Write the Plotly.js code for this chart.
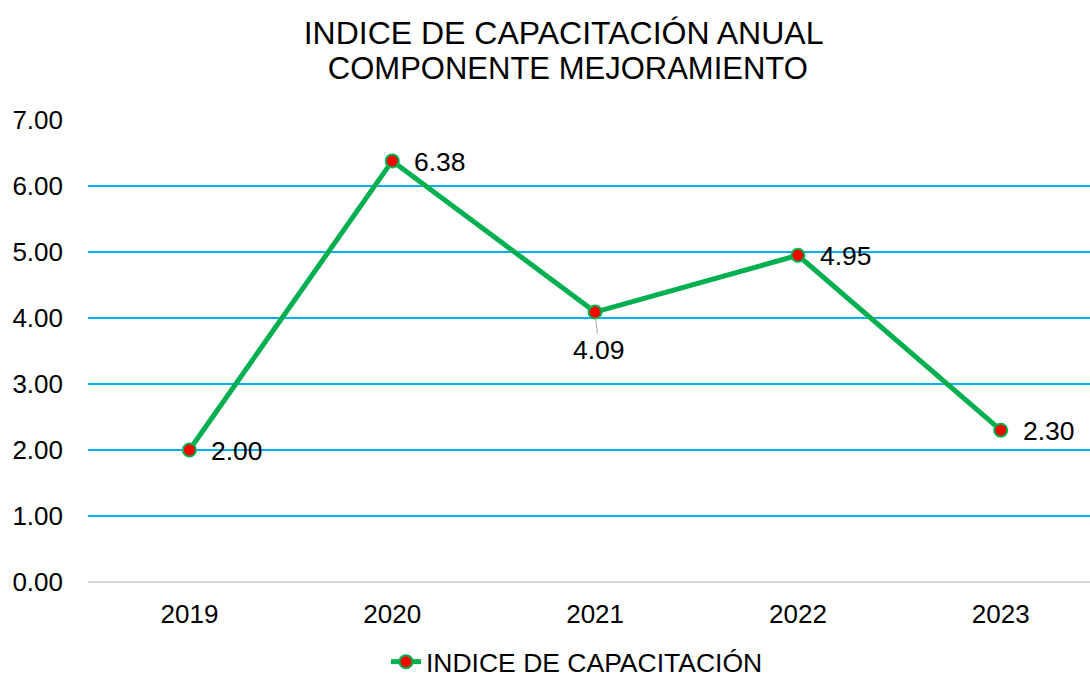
<!DOCTYPE html>
<html>
<head>
<meta charset="utf-8">
<script src="https://cdn.plot.ly/plotly-3.0.1.min.js"></script>
<style>html,body{margin:0;padding:0;background:#fff;}#chart{width:1090px;height:680px;}#err{position:absolute;left:100px;top:300px;color:#c00;font:14px sans-serif;}</style>
</head>
<body>
<div id="chart"></div>
<div id="err"></div>
<script>
window.onerror = function (m) { document.getElementById('err').textContent += ' ' + m; };
const years = ['2019', '2020', '2021', '2022', '2023'];
const values = [2.00, 6.38, 4.09, 4.95, 2.30];
const labels = ['2.00', '6.38', '4.09', '4.95', '2.30'];
const yTicks = [0, 1, 2, 3, 4, 5, 6, 7];
const yTickText = ['0.00', '1.00', '2.00', '3.00', '4.00', '5.00', '6.00', '7.00'];
const seriesName = 'INDICE DE CAPACITACIÓN';
const titleLines = ['INDICE DE CAPACITACIÓN ANUAL', '&nbsp;COMPONENTE MEJORAMIENTO'];
const titleSizes = [32, 31];

const font = 'Liberation Sans, Arial, sans-serif';

const trace = {
  type: 'scatter',
  mode: 'lines+markers',
  x: years,
  y: values,
  name: seriesName,
  line: {color: '#00b050', width: 5},
  marker: {color: '#ff0000', size: 13, line: {color: '#00b050', width: 2}},
  cliponaxis: false
};

const annotations = years.map((yr, i) => {
  if (i === 2) {
    return {
      x: i, y: values[i], xref: 'x', yref: 'y',
      text: labels[i], showarrow: true, arrowhead: 0, arrowwidth: 1,
      arrowcolor: '#a6a6a6', ax: 4, ay: 38, standoff: 6,
      font: {family: font, size: 26.5, color: '#000000'}
    };
  }
  return {
    x: i, y: values[i], xref: 'x', yref: 'y',
    text: labels[i], showarrow: false, xanchor: 'left', yanchor: 'middle',
    xshift: 20, yshift: -1,
    font: {family: font, size: 26.5, color: '#000000'}
  };
});

const layout = {
  width: 1090, height: 680,
  margin: {l: 88, r: 0, t: 120, b: 98, autoexpand: false},
  paper_bgcolor: '#ffffff', plot_bgcolor: '#ffffff',
  title: {
    text: titleLines.map((t, k) => '<span style="font-size:' + titleSizes[k] + 'px">' + t + '</span>').join('<br>'),
    font: {family: font, size: 27, color: '#000000'},
    x: 0.517, xanchor: 'center', y: 0.935, yanchor: 'middle'
  },
  xaxis: {
    type: 'category',
    range: [-0.5, 4.44],
    showgrid: false, zeroline: false, showline: false,
    ticks: '', ticklabelstandoff: 14,
    tickfont: {family: font, size: 26, color: '#000000'}
  },
  yaxis: {
    range: [0, 7],
    tickmode: 'array',
    tickvals: yTicks, ticktext: yTickText,
    showgrid: true, gridcolor: '#00b0f0', gridwidth: 1.5,
    zeroline: true, zerolinecolor: '#d9d9d9', zerolinewidth: 1.5,
    showline: false, ticks: '', ticklabelstandoff: 24,
    tickfont: {family: font, size: 26, color: '#000000'}
  },
  showlegend: true,
  legend: {
    orientation: 'h', x: 0.488, xanchor: 'center', y: -0.121, yanchor: 'top',
    maxheight: 120,
    font: {family: font, size: 26.5, color: '#000000'}
  },
  annotations: annotations
};

try {
  Plotly.newPlot('chart', [trace], layout, {displayModeBar: false, staticPlot: true})
    .catch(function (e) { document.getElementById('err').textContent += ' P:' + e; });
} catch (e) {
  document.getElementById('err').textContent += ' C:' + e;
}
</script>
</body>
</html>
